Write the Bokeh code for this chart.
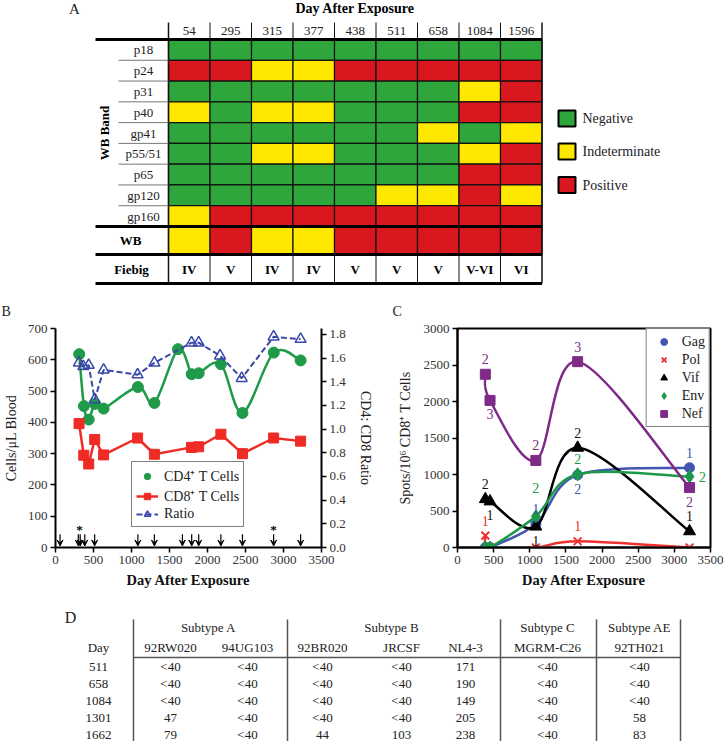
import numpy as np
from bokeh.plotting import figure
from bokeh.models import (Range1d, LinearAxis, Legend, LegendItem, Arrow, VeeHead,
                          ColumnDataSource, FixedTicker, NumeralTickFormatter)
from bokeh.layouts import column, row
from bokeh.embed import file_html
from bokeh.resources import INLINE
from bokeh.core.properties import value

SERIF = "Liberation Serif"

# ---------------- Panel A data ----------------
wb_days = ["54", "295", "315", "377", "438", "511", "658", "1084", "1596"]
wb_bands = ["p18", "p24", "p31", "p40", "gp41", "p55/51", "p65", "gp120", "gp160"]
wb_results = [
    ["N", "N", "N", "N", "N", "N", "N", "N", "N"],  # p18
    ["P", "P", "I", "I", "P", "P", "P", "P", "P"],  # p24
    ["N", "N", "N", "N", "N", "N", "N", "I", "P"],  # p31
    ["I", "N", "I", "I", "N", "N", "N", "P", "P"],  # p40
    ["N", "N", "N", "N", "N", "N", "I", "N", "I"],  # gp41
    ["N", "N", "I", "I", "N", "N", "N", "I", "P"],  # p55/51
    ["N", "N", "N", "N", "N", "N", "N", "P", "P"],  # p65
    ["N", "N", "N", "N", "N", "I", "I", "P", "I"],  # gp120
    ["I", "P", "P", "P", "P", "P", "P", "P", "P"],  # gp160
]
wb_overall = ["I", "P", "I", "I", "P", "P", "P", "P", "P"]
fiebig_stage = ["IV", "V", "IV", "IV", "V", "V", "V", "V-VI", "VI"]
status_codes = ["N", "I", "P"]
status_names = ["Negative", "Indeterminate", "Positive"]

# ---------------- Panel B data ----------------
cd4_days = [312, 374, 437, 518, 633, 1084, 1301, 1612, 1792, 1884, 2176, 2460, 2872, 3225]
cd4_counts = [618, 452, 409, 459, 444, 513, 462, 634, 554, 557, 586, 430, 623, 598]
cd8_days = [310, 372, 437, 516, 633, 1080, 1301, 1790, 1884, 2176, 2460, 2870, 3225]
cd8_counts = [396, 295, 267, 345, 296, 350, 298, 320, 322, 362, 300, 350, 340]
ratio_days = [308, 366, 437, 516, 633, 1080, 1301, 1790, 1884, 2165, 2450, 2870, 3225]
ratio_vals = [1.56, 1.53, 1.54, 1.25, 1.50, 1.46, 1.56, 1.73, 1.73, 1.62, 1.43, 1.78, 1.76]
arrow_days = [60, 300, 325, 385, 515, 1084, 1301, 1670, 1792, 1884, 2176, 2460, 2870, 3225]
asterisk_days = [315, 2870]

# ---------------- Panel C data ----------------
c_days = [385, 450, 1084, 1662, 3210]
gag = [0, 0, 322, 994, 1093]
pol = [163, 0, 0, 86, 0]
vif = [662, 631, 286, 1366, 222]
env = [0, 0, 427, 1003, 971]
nef = [2373, 2015, 1193, 2546, 821]
gag_n = [None, None, 1, 2, 1]
pol_n = [1, None, None, 1, None]
vif_n = [2, 1, 1, 2, 1]
env_n = [None, None, 2, 2, 2]
nef_n = [2, 3, 2, 3, 2]
# label placement style
gag_pos = [None, None, "above", "below", "above"]
pol_pos = ["above", None, None, "above", None]
vif_pos = ["above", "below", "below", "above", "above"]
env_pos = [None, None, "above2", "above", "right"]
nef_pos = ["above", "below", "above", "above", "below"]

# ---------------- Panel D data ----------------
d_days = ["511", "658", "1084", "1301", "1662"]
d_subtypes = ["Subtype A", "Subtype B", "Subtype C", "Subtype AE"]
d_isolates = ["92RW020", "94UG103", "92BR020", "JRCSF", "NL4-3", "MGRM-C26", "92TH021"]
d_92RW020 = ["<40", "<40", "<40", "47", "79"]
d_94UG103 = ["<40", "<40", "<40", "<40", "<40"]
d_92BR020 = ["<40", "<40", "<40", "<40", "44"]
d_JRCSF = ["<40", "<40", "<40", "<40", "103"]
d_NL43 = ["171", "190", "149", "205", "238"]
d_MGRMC26 = ["<40", "<40", "<40", "<40", "<40"]
d_92TH021 = ["<40", "<40", "<40", "58", "83"]
d_columns = [d_92RW020, d_94UG103, d_92BR020, d_JRCSF, d_NL43, d_MGRMC26, d_92TH021]

# ---------------- styles ----------------
STATUS_COLOR = {"N": "#2ea63c", "I": "#ffe800", "P": "#d8171e"}
TXT = "#222222"


def blank(width, height):
    p = figure(width=width, height=height, x_range=Range1d(0, width), y_range=Range1d(height, 0),
               x_axis_type=None, y_axis_type=None, output_backend="svg",
               toolbar_location=None, min_border=0)
    p.outline_line_color = None
    p.background_fill_color = "white"
    p.border_fill_color = "white"
    return p


def txt(p, xs, ys, texts, size="13px", bold=False, align="center", baseline="middle",
        color=TXT, angle=0.0, x_offset=0, y_offset=0):
    p.text(x=xs, y=ys, text=texts, text_font=value(SERIF), text_font_size=value(size),
           text_font_style=value("bold" if bold else "normal"), text_align=align,
           text_baseline=baseline, text_color=color, angle=angle,
           x_offset=x_offset, y_offset=y_offset)


# ================= Panel A =================
pA = blank(724, 320)
col_left, col_w = 168.0, 41.5
ncol = len(wb_days)
col_cx = [col_left + col_w * (j + 0.5) for j in range(ncol)]
col_right = col_left + col_w * ncol
head_top, band_top = 22.0, 39.0
row_h = 187.0 / len(wb_bands)
wb_top = band_top + row_h * len(wb_bands)
wb_bot = wb_top + 28
fb_bot = wb_bot + 29
line_left = 95.0

cx, cy, cc = [], [], []
for i, res in enumerate(wb_results):
    for j, s in enumerate(res):
        cx.append(col_cx[j]); cy.append(band_top + row_h * (i + 0.5)); cc.append(STATUS_COLOR[s])
pA.rect(x=cx, y=cy, width=col_w, height=row_h, fill_color=cc, line_color="#111111", line_width=1.2)
pA.rect(x=col_cx, y=[(wb_top + wb_bot) / 2] * ncol, width=col_w, height=wb_bot - wb_top,
        fill_color=[STATUS_COLOR[s] for s in wb_overall], line_color="#111111", line_width=1.2)

inner = [col_left + col_w * j for j in range(1, ncol)]
pA.segment(x0=inner, y0=[head_top] * len(inner), x1=inner, y1=[band_top] * len(inner),
           line_color="#111111", line_width=1)
pA.segment(x0=inner, y0=[wb_bot] * len(inner), x1=inner, y1=[fb_bot] * len(inner),
           line_color="#111111", line_width=1)
pA.segment(x0=[col_left, col_right], y0=[head_top] * 2, x1=[col_left, col_right], y1=[fb_bot] * 2,
           line_color="#111111", line_width=1.5)
seps = [band_top + row_h * k for k in range(1, len(wb_bands))]
pA.segment(x0=[118] * len(seps), y0=seps, x1=[col_left] * len(seps), y1=seps,
           line_color="#777777", line_width=1)
rules = [band_top, wb_top, wb_bot, fb_bot]
pA.segment(x0=[line_left] * 4, y0=rules, x1=[col_right] * 4, y1=rules,
           line_color="black", line_width=3)

txt(pA, col_cx, [(head_top + band_top) / 2] * ncol, wb_days, size="13px")
txt(pA, [143] * len(wb_bands), [band_top + row_h * (i + 0.5) for i in range(len(wb_bands))],
    wb_bands, size="13px")
txt(pA, [130], [(wb_top + wb_bot) / 2], ["WB"], size="13px", bold=True, color="black")
txt(pA, [131], [(wb_bot + fb_bot) / 2], ["Fiebig"], size="13px", bold=True, color="black")
txt(pA, col_cx, [(wb_bot + fb_bot) / 2] * ncol, fiebig_stage, size="13px", bold=True, color="black")
txt(pA, [104], [(band_top + wb_top) / 2], ["WB Band"], size="13px", bold=True, color="black",
    angle=np.pi / 2)
txt(pA, [(col_left + col_right) / 2], [8], ["Day After Exposure"], size="14px", bold=True,
    color="black")
txt(pA, [74], [8], ["A"], size="15px")
txt(pA, [1, 392], [310.5, 310.5], ["B", "C"], size="14px", align="left")

leg_y = [118, 151, 184.5]
pA.rect(x=[566.5] * 3, y=leg_y, width=17, height=16,
        fill_color=[STATUS_COLOR[c] for c in status_codes], line_color="black", line_width=2)
txt(pA, [582] * 3, leg_y, status_names, size="14px", align="left")


def smooth(xs, ys):
    xs = np.asarray(xs, float); ys = np.asarray(ys, float)
    n = len(xs)
    px = np.concatenate([[xs[0]], xs, [xs[-1]]])
    py = np.concatenate([[ys[0]], ys, [ys[-1]]])
    P0x, P1x, P2x, P3x = px[0:n - 1], px[1:n], px[2:n + 1], px[3:n + 2]
    P0y, P1y, P2y, P3y = py[0:n - 1], py[1:n], py[2:n + 1], py[3:n + 2]
    return dict(x0=P1x, y0=P1y, x1=P2x, y1=P2y,
                cx0=P1x + (P2x - P0x) / 6, cy0=P1y + (P2y - P0y) / 6,
                cx1=P2x - (P3x - P1x) / 6, cy1=P2y - (P3y - P1y) / 6)


def style_axis(ax, label_size="14px", bold=False, standoff=5):
    ax.axis_line_width = 2
    ax.axis_line_color = "black"
    ax.major_tick_line_width = 1.5
    ax.major_tick_line_color = "black"
    ax.major_tick_in = 0
    ax.major_tick_out = 5
    ax.minor_tick_line_color = None
    ax.major_label_text_font = SERIF
    ax.major_label_text_font_size = "13px"
    ax.major_label_text_color = "#333333"
    ax.major_label_standoff = 3
    ax.axis_label_text_font = SERIF
    ax.axis_label_text_font_size = label_size
    ax.axis_label_text_font_style = "bold" if bold else "normal"
    ax.axis_label_text_color = "#111111" if bold else TXT
    ax.axis_label_standoff = standoff


xticks = list(range(0, 3501, 500))

# ================= Panel B =================
pB = figure(width=394, height=275, x_range=Range1d(0, 3500), y_range=Range1d(0, 700),
            output_backend="svg", toolbar_location=None,
            min_border_left=54, min_border_right=73, min_border_top=8, min_border_bottom=48)
pB.extra_y_ranges = {"ratio": Range1d(0, 1.85)}
pB.grid.visible = False
pB.outline_line_color = None
pB.xaxis.ticker = FixedTicker(ticks=xticks)
pB.yaxis.ticker = FixedTicker(ticks=list(range(0, 701, 100)))
pB.xaxis.axis_label = "Day After Exposure"
pB.yaxis.axis_label = "Cells/\u03bcL Blood"
style_axis(pB.xaxis[0], label_size="14.5px", bold=True, standoff=5)
style_axis(pB.yaxis[0], standoff=6)
rax = LinearAxis(y_range_name="ratio", axis_label="CD4: CD8 Ratio",
                 ticker=FixedTicker(ticks=[0, 0.2, 0.4, 0.6, 0.8, 1.0, 1.2, 1.4, 1.6, 1.8]),
                 formatter=NumeralTickFormatter(format="0.0"))
style_axis(rax, standoff=9)
pB.add_layout(rax, "right")

GREEN_B, RED_B, BLUE_B = "#1f9a48", "#ee2b24", "#3a48a8"
pB.bezier(source=ColumnDataSource(smooth(cd4_days, cd4_counts)), x0="x0", y0="y0", x1="x1", y1="y1",
          cx0="cx0", cy0="cy0", cx1="cx1", cy1="cy1", line_color=GREEN_B, line_width=2.5)
cd4_m = pB.scatter(cd4_days, cd4_counts, marker="circle", size=11, color=GREEN_B)
cd8_l = pB.line(cd8_days, cd8_counts, line_color=RED_B, line_width=2.5)
cd8_m = pB.scatter(cd8_days, cd8_counts, marker="square", size=10, color=RED_B)
rat_l = pB.line(ratio_days, ratio_vals, y_range_name="ratio", line_color=BLUE_B, line_width=2,
                line_dash="6 3")
rat_m = pB.scatter(ratio_days, ratio_vals, y_range_name="ratio", marker="triangle", size=11,
                   line_color=BLUE_B, fill_color=None, line_width=1.5)
cd4_leg = pB.line([], [], line_color=GREEN_B, line_width=2.5)

arr_src = ColumnDataSource(dict(x=arrow_days, y0=[42] * len(arrow_days), y1=[5] * len(arrow_days)))
pB.add_layout(Arrow(end=VeeHead(size=6, line_color="black", fill_color="black", line_width=1),
                    x_start="x", y_start="y0", x_end="x", y_end="y1", source=arr_src,
                    line_color="black", line_width=1.2))
txt(pB, asterisk_days, [56] * len(asterisk_days), ["*"] * len(asterisk_days), size="13px",
    bold=True, color="black")

legB = Legend(items=[LegendItem(label="CD4\u207a T Cells", renderers=[cd4_leg, cd4_m]),
                     LegendItem(label="CD8\u207a T Cells", renderers=[cd8_l, cd8_m]),
                     LegendItem(label="Ratio", renderers=[rat_l, rat_m])],
              location=(76, 20), border_line_color="black", border_line_width=1,
              label_text_font=SERIF, label_text_font_size="14px", label_text_color=TXT,
              glyph_width=22, glyph_height=16, label_height=16, spacing=1, padding=4,
              label_standoff=6, background_fill_alpha=1.0, margin=0)
pB.add_layout(legB)

# ================= Panel C =================
pC = figure(width=330, height=275, x_range=Range1d(0, 3500), y_range=Range1d(0, 3000),
            output_backend="svg", toolbar_location=None,
            min_border_left=58, min_border_right=14, min_border_top=8, min_border_bottom=48)
pC.grid.visible = False
pC.outline_line_color = "black"
pC.outline_line_width = 2
pC.xaxis.ticker = FixedTicker(ticks=xticks)
pC.yaxis.ticker = FixedTicker(ticks=list(range(0, 3001, 500)))
pC.xaxis.axis_label = "Day After Exposure"
pC.yaxis.axis_label = "Spots/10\u2076 CD8\u207a T Cells"
style_axis(pC.xaxis[0], label_size="14.5px", bold=True, standoff=5)
style_axis(pC.yaxis[0], standoff=8)

series = [
    ("Gag", gag, gag_n, gag_pos, "#4255b0", "circle", 10),
    ("Pol", pol, pol_n, pol_pos, "#ee3030", "x", 11),
    ("Vif", vif, vif_n, vif_pos, "#000000", "triangle", 12),
    ("Env", env, env_n, env_pos, "#1a9a48", "diamond", 13),
    ("Nef", nef, nef_n, nef_pos, "#7e2a88", "square", 10),
]
OFFS = {"above": (0, -15), "above2": (0, -28), "below": (0, 14), "right": (13, 0)}
items = []
for name, vals, counts, pos, col, mk, sz in series:
    pC.bezier(source=ColumnDataSource(smooth(c_days, vals)), x0="x0", y0="y0", x1="x1", y1="y1",
              cx0="cx0", cy0="cy0", cx1="cx1", cy1="cy1", line_color=col, line_width=2.5)
    if mk == "x":
        m = pC.scatter(c_days, vals, marker=mk, size=sz, line_color=col, line_width=2)
    else:
        m = pC.scatter(c_days, vals, marker=mk, size=sz, color=col)
    lg = pC.line([], [], line_color=col, line_width=2.5)
    items.append(LegendItem(label=name, renderers=[lg, m]))
for name, vals, counts, pos, col, mk, sz in series:
    lx, ly, lt, ox, oy = [], [], [], [], []
    for d, v, c, ps in zip(c_days, vals, counts, pos):
        if c is None:
            continue
        lx.append(d); ly.append(v); lt.append(str(c))
        ox.append(OFFS[ps][0]); oy.append(OFFS[ps][1])
    lab_col = {"#000000": "#111111"}.get(col, col)
    txt(pC, lx, ly, lt, size="14px", color=lab_col, x_offset=ox, y_offset=oy)

legC = Legend(items=items, location="top_right", border_line_color="black", border_line_width=1,
              label_text_font=SERIF, label_text_font_size="14px", label_text_color=TXT,
              glyph_width=26, glyph_height=17, label_height=17, spacing=1, padding=4,
              label_standoff=5, background_fill_alpha=1.0, margin=0)
pC.add_layout(legC)

# ================= Panel D =================
pD = blank(724, 146)
d_vlines = [133, 287, 500, 596, 680]
d_day_x = 98
d_iso_x = [170, 247, 322, 401, 465, 547, 639]
d_sub_x = [208, 391, 547, 639]
y_sub, y_head, y_rule = 32, 52, 62
y_rows = [71 + 17 * i for i in range(len(d_days))]
pD.segment(x0=d_vlines, y0=[24] * 5, x1=d_vlines, y1=[146] * 5, line_color="#555555", line_width=1.5)
pD.segment(x0=[d_vlines[0]], y0=[y_rule], x1=[d_vlines[-1]], y1=[y_rule], line_color="#555555",
           line_width=1.5)
txt(pD, [70], [22], ["D"], size="16px")
txt(pD, d_sub_x, [y_sub] * 4, d_subtypes, size="13px")
txt(pD, [d_day_x] + d_iso_x, [y_head] * 8, ["Day"] + d_isolates, size="13px")
txt(pD, [d_day_x] * len(d_days), y_rows, d_days, size="13px")
for xpos, colvals in zip(d_iso_x, d_columns):
    txt(pD, [xpos] * len(colvals), y_rows, colvals, size="13px")

layout = column(pA, row(pB, pC), pD)
open("out.html", "w").write(file_html(layout, INLINE, "chart"))
